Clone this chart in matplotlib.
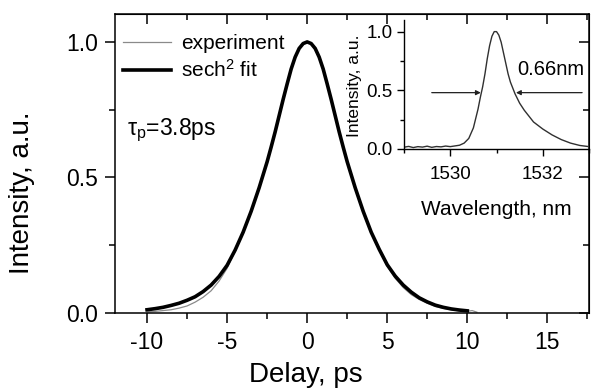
import matplotlib
matplotlib.use("Agg")
import matplotlib.pyplot as plt
from matplotlib.ticker import MultipleLocator, FormatStrFormatter, NullFormatter

plt.rcParams['font.family'] = ['Liberation Sans', 'DejaVu Sans']
plt.rcParams['mathtext.fontset'] = 'custom'
plt.rcParams['mathtext.rm'] = 'Liberation Sans'
plt.rcParams['mathtext.it'] = 'Liberation Sans'
plt.rcParams['axes.unicode_minus'] = False

# autocorrelation trace (delay in ps)
delay_exp = [-10.0, -9.5, -9.0, -8.5, -8.0, -7.5, -7.0, -6.5, -6.0, -5.5, -5.0, -4.5, -4.0,
             -3.5, -3.0, -2.75, -2.5, -2.25, -2.0, -1.75, -1.5, -1.25, -1.0, -0.75, -0.5, -0.25,
             0.0, 0.25, 0.5, 0.75, 1.0, 1.25, 1.5, 1.75, 2.0, 2.25, 2.5, 2.75, 3.0,
             3.5, 4.0, 4.5, 5.0, 5.5, 6.0, 6.5, 7.0, 7.5, 8.0, 8.5, 9.0, 9.5, 10.0, 10.3, 10.6]
int_exp = [0.004, 0.006, 0.009, 0.012, 0.018, 0.026, 0.040, 0.058, 0.082, 0.118, 0.165, 0.228, 0.295,
           0.372, 0.458, 0.508, 0.556, 0.611, 0.668, 0.728, 0.788, 0.846, 0.899, 0.944, 0.976, 0.995,
           1.0, 0.995, 0.977, 0.945, 0.901, 0.846, 0.790, 0.728, 0.668, 0.611, 0.556, 0.508, 0.458,
           0.372, 0.295, 0.232, 0.172, 0.128, 0.094, 0.068, 0.050, 0.036, 0.024, 0.017, 0.012, 0.008, 0.006,
           0.009, 0.003]

delay_fit = [-10.0, -9.5, -9.0, -8.5, -8.0, -7.5, -7.0, -6.5, -6.0, -5.5, -5.0, -4.5, -4.0,
             -3.5, -3.0, -2.75, -2.5, -2.25, -2.0, -1.75, -1.5, -1.25, -1.0, -0.75, -0.5, -0.25,
             0.0, 0.25, 0.5, 0.75, 1.0, 1.25, 1.5, 1.75, 2.0, 2.25, 2.5, 2.75, 3.0,
             3.5, 4.0, 4.5, 5.0, 5.5, 6.0, 6.5, 7.0, 7.5, 8.0, 8.5, 9.0, 9.5, 10.0]
int_fit = [0.012, 0.016, 0.021, 0.028, 0.036, 0.047, 0.060, 0.079, 0.103, 0.135, 0.176, 0.232, 0.298,
           0.375, 0.462, 0.510, 0.558, 0.612, 0.668, 0.728, 0.788, 0.845, 0.900, 0.944, 0.976, 0.994,
           1.0, 0.994, 0.976, 0.944, 0.900, 0.845, 0.788, 0.728, 0.668, 0.612, 0.558, 0.510, 0.462,
           0.375, 0.298, 0.235, 0.178, 0.136, 0.103, 0.077, 0.056, 0.041, 0.029, 0.021, 0.015, 0.011, 0.008]

# inset spectrum
wavelength = [1529.0, 1529.1, 1529.2, 1529.3, 1529.4, 1529.5, 1529.6, 1529.7, 1529.8, 1529.9,
              1530.0, 1530.1, 1530.2, 1530.3, 1530.4, 1530.5, 1530.6, 1530.65, 1530.7, 1530.75,
              1530.8, 1530.85, 1530.9, 1530.95, 1531.0, 1531.05, 1531.1, 1531.15, 1531.2, 1531.25,
              1531.3, 1531.4, 1531.5, 1531.6, 1531.7, 1531.8, 1531.9, 1532.0, 1532.1, 1532.2,
              1532.3, 1532.4, 1532.5, 1532.6, 1532.7, 1532.8, 1532.9, 1533.0]
spectrum = [0.015, 0.022, 0.012, 0.020, 0.016, 0.024, 0.014, 0.021, 0.018, 0.025,
            0.020, 0.026, 0.032, 0.050, 0.090, 0.180, 0.340, 0.440, 0.530, 0.640,
            0.770, 0.880, 0.960, 1.000, 1.000, 0.970, 0.910, 0.820, 0.730, 0.640,
            0.570, 0.470, 0.390, 0.330, 0.280, 0.230, 0.200, 0.170, 0.145, 0.120,
            0.100, 0.080, 0.065, 0.050, 0.040, 0.030, 0.025, 0.020]
fwhm_left = 1530.66
fwhm_right = 1531.42
half_level = 0.48

fig = plt.figure(figsize=(5.95, 3.9), dpi=100)
ax = fig.add_axes([0.1933, 0.1974, 0.7966, 0.7667])

ax.plot(delay_exp, int_exp, color='#8a8a8a', linewidth=0.9, label='experiment')
ax.plot(delay_fit, int_fit, color='black', linewidth=2.6, label='sech$^\\mathregular{2}$ fit')

ax.set_xlim(-12, 17.6)
ax.set_ylim(0, 1.103)
ax.xaxis.set_major_locator(MultipleLocator(5))
ax.xaxis.set_minor_locator(MultipleLocator(2.5))
ax.yaxis.set_major_locator(MultipleLocator(0.5))
ax.yaxis.set_minor_locator(MultipleLocator(0.25))
ax.yaxis.set_major_formatter(FormatStrFormatter('%.1f'))
ax.tick_params(which='major', direction='out', length=7, width=1.1, labelsize=16.5, pad=5)
ax.tick_params(which='minor', direction='out', length=4, width=1.1)
ax.tick_params(axis='x', which='major', pad=6)
for s in ax.spines.values():
    s.set_linewidth(1.1)

# mirrored ticks pointing inward on top and right
top = ax.secondary_xaxis('top')
top.xaxis.set_major_locator(MultipleLocator(5))
top.xaxis.set_minor_locator(MultipleLocator(2.5))
top.xaxis.set_major_formatter(NullFormatter())
top.tick_params(which='major', direction='in', length=7, width=1.1)
top.tick_params(which='minor', direction='in', length=4, width=1.1)
right = ax.secondary_yaxis('right')
right.yaxis.set_major_locator(MultipleLocator(0.5))
right.yaxis.set_minor_locator(MultipleLocator(0.25))
right.yaxis.set_major_formatter(NullFormatter())
right.tick_params(which='major', direction='in', length=7, width=1.1)
right.tick_params(which='minor', direction='in', length=4, width=1.1)

ax.set_xlabel('Delay, ps', fontsize=20)
ax.set_ylabel('Intensity, a.u.', fontsize=20)
ax.xaxis.set_label_coords(0.403, -0.207)
ax.xaxis.label.set_va('center')
ax.yaxis.set_label_coords(-0.196, 0.401)
ax.yaxis.label.set_va('center')

ax.legend(loc='upper left', bbox_to_anchor=(-0.01, 0.975), frameon=False, fontsize=15,
          handlelength=2.3, handletextpad=0.5, labelspacing=0.3, borderaxespad=0.2)
ax.text(0.025, 0.61, '\u03c4$_\\mathregular{p}$=3.8ps', transform=ax.transAxes,
        fontsize=16.5, va='center', ha='left')

# inset
ins = fig.add_axes([0.679, 0.618, 0.311, 0.331])
ins.patch.set_alpha(0)
ins.plot(wavelength, spectrum, color='#303030', linewidth=1.0)
ins.set_xlim(1529, 1533)
ins.set_ylim(0, 1.1)
for side in ['top', 'right']:
    ins.spines[side].set_visible(False)
for side in ['left', 'bottom']:
    ins.spines[side].set_linewidth(1.0)
ins.xaxis.set_major_locator(MultipleLocator(2))
ins.xaxis.set_minor_locator(MultipleLocator(1))
ins.yaxis.set_major_locator(MultipleLocator(0.5))
ins.yaxis.set_minor_locator(MultipleLocator(0.25))
ins.yaxis.set_major_formatter(FormatStrFormatter('%.1f'))
ins.tick_params(which='major', direction='out', length=5, width=1.0, labelsize=13.5, pad=3)
ins.tick_params(which='minor', direction='out', length=3, width=1.0)
ins.tick_params(axis='x', which='major', pad=7)
ins.set_xlabel('Wavelength, nm', fontsize=15)
ins.set_ylabel('Intensity, a.u.', fontsize=12.5)
ins.xaxis.set_label_coords(0.5, -0.47)
ins.xaxis.label.set_va('center')
ins.yaxis.set_label_coords(-0.265, 0.49)
ins.yaxis.label.set_va('center')

ins.annotate('', xy=(fwhm_left, half_level), xytext=(1529.6, half_level),
             arrowprops=dict(arrowstyle='-|>', color='#202020', lw=0.9, mutation_scale=7,
                             shrinkA=0, shrinkB=0))
ins.annotate('', xy=(fwhm_right, half_level), xytext=(1532.85, half_level),
             arrowprops=dict(arrowstyle='-|>', color='#202020', lw=0.9, mutation_scale=7,
                             shrinkA=0, shrinkB=0))
ins.text(1532.17, 0.68, '0.66nm', fontsize=14.5, ha='center', va='center')

fig.savefig('out.png', dpi=100)
